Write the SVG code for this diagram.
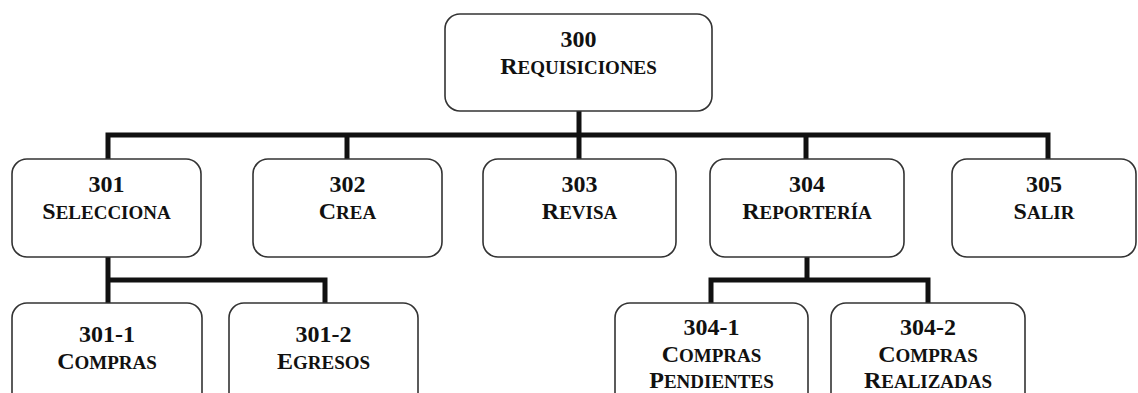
<svg xmlns="http://www.w3.org/2000/svg" width="1138" height="393" viewBox="0 0 1138 393">
  <style>
    .box { fill: #ffffff; stroke: #333333; stroke-width: 1.6; }
    .lbl { font-family: "Liberation Serif", "Times New Roman", serif; font-weight: bold; fill: #111111; text-anchor: middle; font-size: 24px; }
    .sc { font-size: 19px; }
    .wire { fill: none; stroke: #111111; stroke-width: 5; stroke-linejoin: miter; stroke-linecap: butt; }
  </style>
  <rect width="1138" height="393" fill="#ffffff"/>

  <!-- connectors -->
  <g id="connectors" class="wire">
    <path d="M579 111 V159"/>
    <path d="M108 159 V135 H1048 V159"/>
    <path d="M347 135 V159"/>
    <path d="M806 135 V159"/>
    <path d="M108 257 V303"/>
    <path d="M108 280 H325 V303"/>
    <path d="M807 257 V280"/>
    <path d="M711 303 V280 H928 V303"/>
  </g>

  <g id="n300">
    <rect class="box" x="445" y="14" width="267" height="97" rx="15"/>
    <text class="lbl" x="578.5" y="47">300</text>
    <text class="lbl" x="578.5" y="74">R<tspan class="sc">EQUISICIONES</tspan></text>
  </g>

  <g id="n301">
    <rect class="box" x="12" y="159" width="189" height="98" rx="15"/>
    <text class="lbl" x="106.5" y="192">301</text>
    <text class="lbl" x="106.5" y="219">S<tspan class="sc">ELECCIONA</tspan></text>
  </g>

  <g id="n302">
    <rect class="box" x="253" y="159" width="189" height="98" rx="15"/>
    <text class="lbl" x="347.5" y="192">302</text>
    <text class="lbl" x="347.5" y="219">C<tspan class="sc">REA</tspan></text>
  </g>

  <g id="n303">
    <rect class="box" x="483" y="159" width="193" height="98" rx="15"/>
    <text class="lbl" x="579.5" y="192">303</text>
    <text class="lbl" x="579.5" y="219">R<tspan class="sc">EVISA</tspan></text>
  </g>

  <g id="n304">
    <rect class="box" x="710" y="159" width="194" height="98" rx="15"/>
    <text class="lbl" x="807" y="192">304</text>
    <text class="lbl" x="807" y="219">R<tspan class="sc">EPORTERÍA</tspan></text>
  </g>

  <g id="n305">
    <rect class="box" x="952" y="159" width="184" height="98" rx="15"/>
    <text class="lbl" x="1044" y="192">305</text>
    <text class="lbl" x="1044" y="219">S<tspan class="sc">ALIR</tspan></text>
  </g>

  <g id="n301-1">
    <rect class="box" x="12" y="303" width="190" height="110" rx="15"/>
    <text class="lbl" x="107" y="342">301-1</text>
    <text class="lbl" x="107" y="369">C<tspan class="sc">OMPRAS</tspan></text>
  </g>

  <g id="n301-2">
    <rect class="box" x="229" y="303" width="189" height="110" rx="15"/>
    <text class="lbl" x="323.5" y="342">301-2</text>
    <text class="lbl" x="323.5" y="369">E<tspan class="sc">GRESOS</tspan></text>
  </g>

  <g id="n304-1">
    <rect class="box" x="615" y="303" width="193" height="110" rx="15"/>
    <text class="lbl" x="711.5" y="335">304-1</text>
    <text class="lbl" x="711.5" y="362">C<tspan class="sc">OMPRAS</tspan></text>
    <text class="lbl" x="711.5" y="388">P<tspan class="sc">ENDIENTES</tspan></text>
  </g>

  <g id="n304-2">
    <rect class="box" x="831" y="303" width="194" height="110" rx="15"/>
    <text class="lbl" x="928" y="335">304-2</text>
    <text class="lbl" x="928" y="362">C<tspan class="sc">OMPRAS</tspan></text>
    <text class="lbl" x="928" y="388">R<tspan class="sc">EALIZADAS</tspan></text>
  </g>
</svg>
